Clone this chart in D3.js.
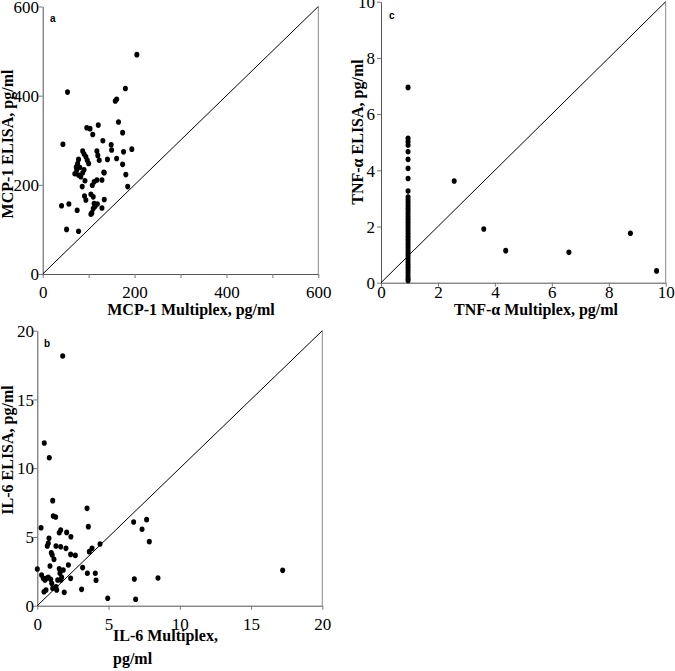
<!DOCTYPE html>
<html>
<head>
<meta charset="utf-8">
<script src="https://cdn.jsdelivr.net/npm/d3@7"></script>
<style>
html,body{margin:0;padding:0;background:#fff;}
svg{display:block;}
</style>
</head>
<body>
<svg id="chart" width="675" height="671"></svg>
<script>
// ---------- DATA ----------
// Panel a: MCP-1 (Multiplex x, ELISA y), pg/ml
const mcpMultiplex = [205,54,180,158,161,165,121,96,103,109,174,131,44,149,150,194,176,118,120,123,141,161,174,181,185,133,87,90,94,97,100,78,76,73,74,70,78,83,87,90,81,86,92,108,112,118,129,134,91,94,105,110,134,41,57,75,112,114,110,107,105,119,129,52,78];
const mcpElisa     = [492,408,416,388,392,341,334,328,326,313,317,299,291,290,278,280,274,276,266,255,257,259,246,223,196,228,276,269,263,255,248,257,248,240,233,225,222,218,227,234,239,196,209,199,207,211,211,227,175,166,179,173,167,153,157,143,158,152,147,137,134,157,148,100,96];

// Panel b: IL-6
const il6Multiplex = [1.78,0.49,0.84,1.08,1.12,1.29,3.49,3.58,0.26,1.54,1.64,2.06,2.36,0.82,0.77,0.70,1.31,1.64,2.01,0.98,1.05,1.17,2.34,2.67,3.65,3.84,4.40,0.00,0.89,1.54,1.59,1.82,1.71,1.66,2.18,2.34,3.18,3.51,4.07,4.12,0.30,0.42,0.54,0.65,0.77,0.94,1.01,1.08,1.31,1.36,0.61,0.47,1.89,1.43,3.11,4.94,6.90,6.81,8.47,6.76,7.67,7.35,7.86,17.22];
const il6Elisa     = [18.16,11.83,10.76,7.64,6.52,6.45,7.08,5.75,5.67,5.31,5.50,5.33,5.02,4.90,4.54,4.34,4.34,4.29,4.17,3.85,3.69,3.37,3.73,3.66,3.93,4.17,4.49,2.67,2.89,2.69,2.36,2.60,2.07,1.87,2.96,1.99,2.77,2.36,2.36,1.85,2.23,1.99,1.87,1.99,2.06,1.92,1.63,1.27,1.38,1.14,1.14,1.02,0.97,1.87,1.19,0.54,0.47,1.94,2.01,6.09,6.26,5.56,4.66,2.57];

// Panel c: TNF-alpha
const tnfMultiplex = [0.95,0.95,0.95,0.95,0.95,0.95,0.95,0.95,0.95,0.95,0.95,0.95,0.95,0.95,0.95,0.95,0.95,0.95,0.95,0.95,0.95,0.95,0.95,0.95,0.95,0.95,0.95,0.95,0.95,0.95,0.95,0.95,0.95,0.95,0.95,0.95,0.95,0.95,0.95,0.95,2.57,3.61,4.38,6.60,8.76,9.68];
const tnfElisa     = [6.95,5.14,5.02,4.90,4.66,4.39,4.07,3.71,3.26,3.05,2.95,2.85,2.75,2.65,2.55,2.45,2.35,2.25,2.15,2.05,1.95,1.85,1.75,1.65,1.55,1.45,1.35,1.25,1.15,1.05,0.95,0.85,0.75,0.65,0.55,0.45,0.35,0.25,0.15,0.08,3.62,1.91,1.14,1.08,1.76,0.42];

// Tick values
const mcpTicksX = [0,100,200,300,400,500,600];
const mcpTicksY = [0,200,400,600];
const il6Ticks  = [0,5,10,15,20];
const tnfTicks  = [0,2,4,6,8,10];

// ---------- DRAW ----------
const svg = d3.select("#chart");
const serif = "'Liberation Serif','Times New Roman',serif";
const sans = "'Liberation Sans',Arial,sans-serif";

function panel(cfg){
  const x = d3.scaleLinear().domain([0, cfg.max]).range([cfg.x0, cfg.x1]);
  const y = d3.scaleLinear().domain([0, cfg.max]).range([cfg.y0, cfg.y1]);
  const g = svg.append("g");

  // right border
  g.append("line")
    .attr("x1", x(cfg.max)).attr("x2", x(cfg.max))
    .attr("y1", y(0)).attr("y2", y(cfg.max))
    .attr("stroke", "#8a8a8a").attr("stroke-width", 1);

  // x axis
  const xa = g.append("g").attr("transform", `translate(0,${y(0)})`)
    .call(d3.axisBottom(x).tickValues(cfg.xTicks).tickSize(4).tickSizeOuter(0)
      .tickFormat(d => cfg.xLabel(d) ? d : ""));
  // y axis
  const ya = g.append("g").attr("transform", `translate(${x(0)},0)`)
    .call(d3.axisLeft(y).tickValues(cfg.yTicks).tickSize(4).tickSizeOuter(0)
      .tickFormat(d => d));
  [xa, ya].forEach(a => {
    a.select(".domain").attr("stroke", "#555");
    a.selectAll(".tick line").attr("stroke", "#777");
    a.selectAll(".tick text").attr("font-family", serif).attr("font-size", 17).attr("fill", "#000");
  });
  xa.selectAll(".tick text").attr("dy", null).attr("y", 0)
    .attr("transform", `translate(0,${cfg.xLabelBase - y(0)})`);
  ya.selectAll(".tick text").attr("x", cfg.yLabelRight - x(0)).attr("dy", "0.34em");

  // diagonal
  g.append("line")
    .attr("x1", x(0)).attr("y1", y(0))
    .attr("x2", x(cfg.max)).attr("y2", y(cfg.max))
    .attr("stroke", "#000").attr("stroke-width", 1);

  // points
  g.append("g").selectAll("ellipse")
    .data(cfg.xs.map((v, i) => [v, cfg.ys[i]]))
    .join("ellipse")
    .attr("cx", d => x(d[0])).attr("cy", d => y(d[1]))
    .attr("rx", 2.5).attr("ry", 2.8)
    .attr("fill", "#000");

  // panel letter
  g.append("text").attr("x", cfg.letterX).attr("y", cfg.letterY)
    .attr("font-family", sans).attr("font-weight", "bold").attr("font-size", 10)
    .text(cfg.letter);

  // y title
  g.append("text")
    .attr("transform", `translate(${cfg.yTitleX},${cfg.yTitleY}) rotate(-90)`)
    .attr("text-anchor", "middle")
    .attr("font-family", serif).attr("font-weight", "bold").attr("font-size", 16)
    .text(cfg.yTitle);

  // x title
  const xt = g.append("text")
    .attr("font-family", serif).attr("font-weight", "bold").attr("font-size", 16)
    .attr("text-anchor", cfg.xTitleAnchor);
  cfg.xTitle.forEach((line, i) => {
    xt.append("tspan").attr("x", cfg.xTitleX).attr("y", cfg.xTitleY + i * cfg.xTitleLead).text(line);
  });
}

panel({
  max: 600, x0: 42.7, x1: 318.3, y0: 274, y1: 6.5,
  xTicks: mcpTicksX, yTicks: mcpTicksY, xLabel: d => d % 200 === 0,
  xLabelBase: 298, yLabelRight: 39,
  xs: mcpMultiplex, ys: mcpElisa,
  letter: "a", letterX: 50, letterY: 22,
  yTitle: "MCP-1 ELISA, pg/ml", yTitleX: 13, yTitleY: 144,
  xTitle: ["MCP-1 Multiplex, pg/ml"], xTitleX: 191, xTitleY: 315, xTitleLead: 0, xTitleAnchor: "middle"
});

panel({
  max: 10, x0: 381, x1: 665.7, y0: 282.7, y1: 1.7,
  xTicks: tnfTicks, yTicks: tnfTicks, xLabel: d => true,
  xLabelBase: 298, yLabelRight: 375,
  xs: tnfMultiplex, ys: tnfElisa,
  letter: "c", letterX: 389, letterY: 19,
  yTitle: "TNF-\u03b1 ELISA, pg/ml", yTitleX: 363, yTitleY: 132,
  xTitle: ["TNF-\u03b1 Multiplex, pg/ml"], xTitleX: 536, xTitleY: 315, xTitleLead: 0, xTitleAnchor: "middle"
});

panel({
  max: 20, x0: 37.3, x1: 322.3, y0: 605.7, y1: 330.7,
  xTicks: il6Ticks, yTicks: il6Ticks, xLabel: d => true,
  xLabelBase: 629.5, yLabelRight: 34,
  xs: il6Multiplex, ys: il6Elisa,
  letter: "b", letterX: 44, letterY: 347,
  yTitle: "IL-6 ELISA, pg/ml", yTitleX: 13, yTitleY: 450,
  xTitle: ["IL-6 Multiplex,", "pg/ml"], xTitleX: 113, xTitleY: 641, xTitleLead: 23, xTitleAnchor: "start"
});
</script>
</body>
</html>
